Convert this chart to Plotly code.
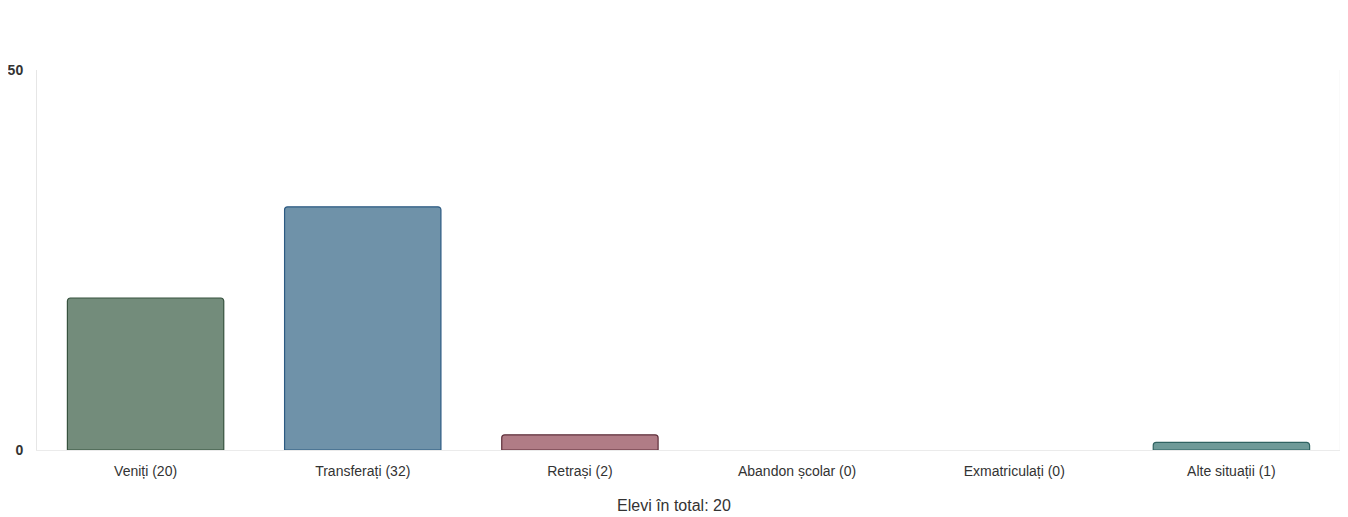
import plotly.graph_objects as go

categories = ["Veniți (20)", "Transferați (32)", "Retrași (2)", "Abandon școlar (0)", "Exmatriculați (0)", "Alte situații (1)"]
values = [20, 32, 2, 0, 0, 1]
fill_colors = ["#738c7b", "#6f92a9", "#b07c86", "rgba(0,0,0,0)", "rgba(0,0,0,0)", "#6e9a98"]
line_colors = ["#36523e", "#2c5a82", "#5e2f3a", "rgba(0,0,0,0)", "rgba(0,0,0,0)", "#2f6362"]
y_ticks = [0, 50]
x_title = "Elevi în total: 20"

fig = go.Figure(go.Bar(
    x=categories, y=values,
    marker=dict(color=fill_colors, line=dict(color=line_colors, width=1.2), cornerradius=3),
    hoverinfo="x+y",
))

fig.update_layout(
    width=1332, height=509,
    margin=dict(l=27, r=0, t=62, b=67),
    paper_bgcolor="white", plot_bgcolor="white",
    bargap=0.28,
    showlegend=False,
    font=dict(family="Liberation Sans, Arial, sans-serif", color="#333333"),
    xaxis=dict(
        showgrid=False, showline=True, linecolor="#ebebeb", linewidth=1,
        mirror=False, ticks="", tickfont=dict(size=14, color="#333333"),
        ticklabelstandoff=8,
    ),
    yaxis=dict(
        range=[0, 50], tickvals=y_ticks, showgrid=False, zeroline=False,
        showline=True, linecolor="#e6e6e6", linewidth=1,
        tickfont=dict(size=14, color="#333333", weight="bold"),
        ticks="", ticklen=0, ticklabelstandoff=10,
    ),
)
fig.add_annotation(text=x_title, xref="paper", yref="paper", x=0.489, y=0,
                   xanchor="center", yanchor="middle", yshift=-55, showarrow=False,
                   font=dict(size=16, color="#333333"))
fig.add_shape(type="line", xref="paper", yref="paper", x0=1, x1=1, y0=0, y1=1,
              line=dict(color="#f4f4f4", width=1))

fig.write_html("out.html")
